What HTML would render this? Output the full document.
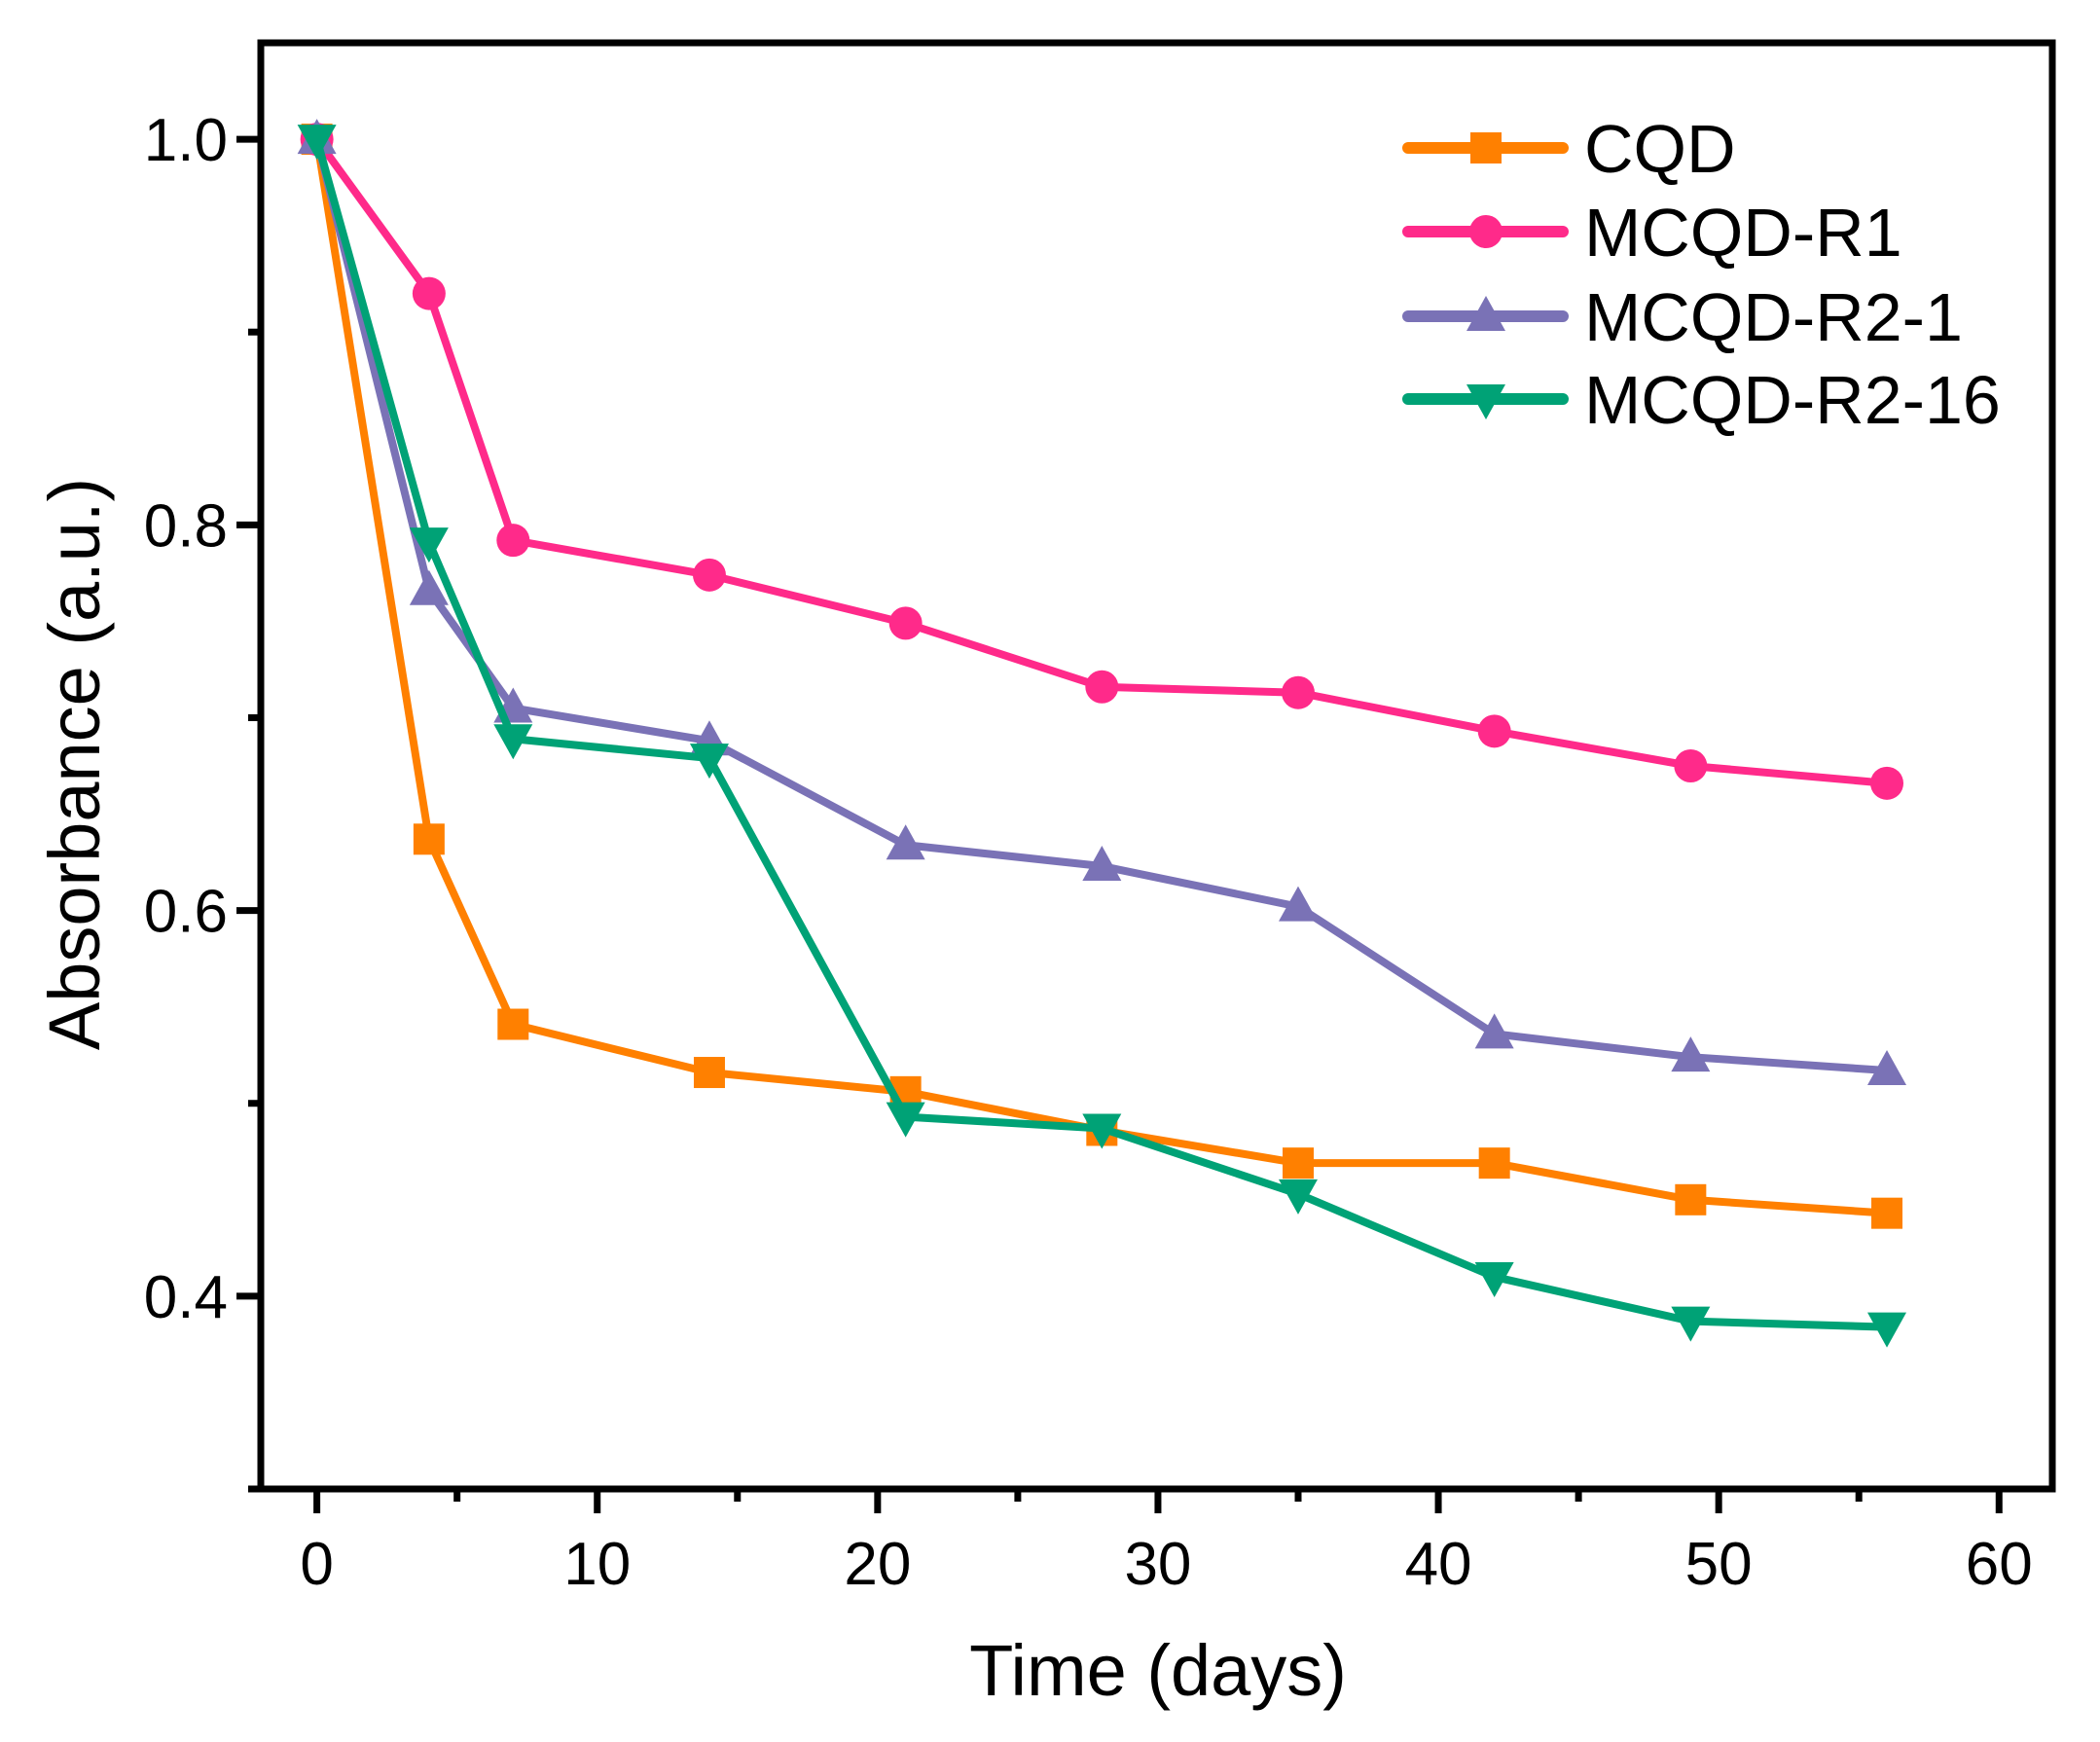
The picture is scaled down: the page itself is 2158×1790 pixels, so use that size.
<!DOCTYPE html>
<html><head><meta charset="utf-8"><style>html,body{margin:0;padding:0;background:#fff}svg{display:block}</style></head>
<body>
<svg id="chart" width="2158" height="1790" xmlns="http://www.w3.org/2000/svg" font-family="Liberation Sans, Arial, sans-serif">
<g id="plot"></g>
</svg>
<script>
const days = [0, 4, 7, 14, 21, 28, 35, 42, 49, 56];
const cqd = [1.0, 0.637, 0.541, 0.516, 0.506, 0.486, 0.469, 0.469, 0.450, 0.443];
const mcqdR1 = [1.0, 0.920, 0.792, 0.774, 0.749, 0.716, 0.713, 0.693, 0.675, 0.666];
const mcqdR21 = [1.0, 0.766, 0.705, 0.688, 0.634, 0.623, 0.602, 0.536, 0.524, 0.517];
const mcqdR216 = [1.0, 0.791, 0.689, 0.679, 0.493, 0.487, 0.453, 0.410, 0.387, 0.384];
const xTicks = [0, 10, 20, 30, 40, 50, 60];
const xMinor = [5, 15, 25, 35, 45, 55];
const yTicks = [0.4, 0.6, 0.8, 1.0];
const yMinor = [0.3, 0.5, 0.7, 0.9];
const seriesNames = ["CQD", "MCQD-R1", "MCQD-R2-1", "MCQD-R2-16"];

const L = 268, R = 2109, T = 44, B = 1530;
const xMin = -2, xMax = 61.9, yMin = 0.3, yMax = 1.05;
const sx = v => L + (v - xMin) / (xMax - xMin) * (R - L);
const sy = v => B - (v - yMin) / (yMax - yMin) * (B - T);
const NS = "http://www.w3.org/2000/svg";
const g = document.getElementById('plot');
function mk(tag, attrs, parent) {
  const e = document.createElementNS(NS, tag);
  for (const k in attrs) e.setAttribute(k, attrs[k]);
  (parent || g).appendChild(e);
  return e;
}
function marker(type, x, y, color, parent) {
  let e;
  if (type === 'square') e = mk('rect', {x: x - 16, y: y - 16, width: 32, height: 32, fill: color}, parent);
  else if (type === 'circle') e = mk('circle', {cx: x, cy: y, r: 17, fill: color}, parent);
  else if (type === 'up') e = mk('polygon', {points: `${x},${y - 21} ${x - 20},${y + 15} ${x + 20},${y + 15}`, fill: color}, parent);
  else e = mk('polygon', {points: `${x},${y + 21} ${x - 20},${y - 15} ${x + 20},${y - 15}`, fill: color}, parent);
  return e;
}
const series = [
  {vals: cqd, color: '#FF8000', m: 'square'},
  {vals: mcqdR1, color: '#FF2A8A', m: 'circle'},
  {vals: mcqdR21, color: '#7A72B6', m: 'up'},
  {vals: mcqdR216, color: '#00A276', m: 'down'}
];
const slugs = ['cqd', 'mcqd-r1', 'mcqd-r2-1', 'mcqd-r2-16'];
series.forEach((s, i) => {
  const sg = mk('g', {});
  
  
  const pts = s.vals.map((v, j) => sx(days[j]) + ',' + sy(v)).join(' ');
  const pl = mk('polyline', {points: pts, fill: 'none', stroke: s.color, 'stroke-width': 8, 'stroke-linejoin': 'round'}, sg);
  
  
  s.vals.forEach((v, j) => {
    const p = marker(s.m, sx(days[j]), sy(v), s.color, sg);
    
    
  });
});
const fr = mk('rect', {x: L, y: T, width: R - L, height: B - T, fill: 'none', stroke: '#000', 'stroke-width': 7});


xTicks.forEach(t => {
  const tk = mk('line', {x1: sx(t), x2: sx(t), y1: B, y2: B + 25, stroke: '#000', 'stroke-width': 7});
  
  
  const tx = mk('text', {x: sx(t), y: 1628, 'font-size': 62, 'text-anchor': 'middle'});
  tx.textContent = t;
  
  
});
xMinor.forEach(t => {
  const tk = mk('line', {x1: sx(t), x2: sx(t), y1: B, y2: B + 13, stroke: '#000', 'stroke-width': 7});
  
  
});
yTicks.forEach(t => {
  const tk = mk('line', {x1: L - 25, x2: L, y1: sy(t), y2: sy(t), stroke: '#000', 'stroke-width': 7});
  
  
  const tx = mk('text', {x: 234, y: sy(t) + 22, 'font-size': 62, 'text-anchor': 'end'});
  tx.textContent = t.toFixed(1);
  
  
});
yMinor.forEach(t => {
  const tk = mk('line', {x1: L - 13, x2: L, y1: sy(t), y2: sy(t), stroke: '#000', 'stroke-width': 7});
  
  
});
const xt = mk('text', {x: 1190, y: 1742, 'font-size': 74, 'text-anchor': 'middle'});
xt.textContent = 'Time (days)';


const yt = mk('text', {x: 0, y: 0, 'font-size': 74, 'text-anchor': 'middle', transform: 'translate(102,785) rotate(-90)'});
yt.textContent = 'Absorbance (a.u.)';


const legRows = [152, 238, 325, 410];
series.forEach((s, i) => {
  const lg = mk('g', {});
  
  
  mk('line', {x1: 1447, x2: 1606, y1: legRows[i], y2: legRows[i], stroke: s.color, 'stroke-width': 12, 'stroke-linecap': 'round'}, lg);
  marker(s.m, 1527, legRows[i], s.color, lg);
  const tx = mk('text', {x: 1628, y: legRows[i] + 25, 'font-size': 70}, lg);
  tx.textContent = seriesNames[i];
});
</script>
</body></html>
